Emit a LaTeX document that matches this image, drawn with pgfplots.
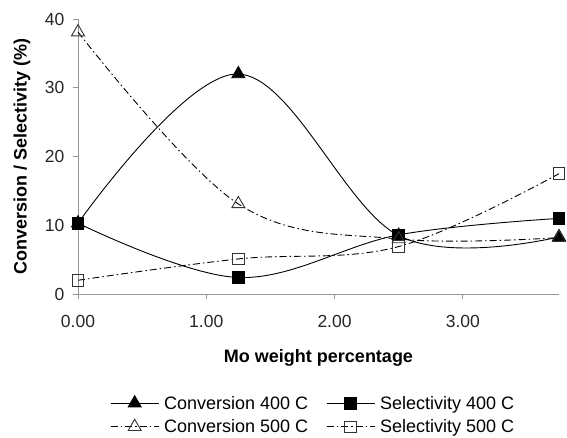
\documentclass[border=0pt]{standalone}
\usepackage{fontspec}
\setmainfont{Liberation Sans}
\usepackage{pgfplots}
\pgfplotsset{compat=1.18}
\definecolor{axgray}{RGB}{150,150,150}
\begin{document}
\begin{tikzpicture}
\begin{axis}[
  scale only axis, width=481pt, height=275pt,
  xmin=0, xmax=3.75, ymin=0, ymax=40,
  axis lines=left, axis line style={axgray, line width=0.9pt, -},
  xtick={0,1,2,3}, ytick={0,10,20,30,40},
  tick align=outside, major tick length=5pt,
  tick style={axgray, line width=0.9pt},
  /pgf/number format/assume math mode=true,
  tick label style={font=\fontsize{17.5}{21}\selectfont, text=black!85},
  xticklabel style={yshift=-13pt, /pgf/number format/.cd, fixed, fixed zerofill, precision=2},
  yticklabel style={xshift=-5pt},
  xlabel={\textbf{Mo weight percentage}},
  ylabel={\textbf{Conversion / Selectivity (\%)}},
  label style={font=\fontsize{18}{21}\selectfont},
  xlabel style={at={(axis description cs:0.5,-0.232)}, anchor=center},
  ylabel style={at={(axis description cs:-0.1164,0.5)}, anchor=center, rotate=0},
  legend columns=2,
  legend cell align=left,
  legend style={at={(0.489,-0.3555)}, anchor=north, draw=none, fill=none,
    font=\fontsize{18}{21}\selectfont,
    /tikz/every odd column/.append style={column sep=3pt},
    /tikz/every even column/.append style={column sep=16pt}, row sep=5pt},
  legend image code/.code={\draw[mark repeat=2,mark phase=2] plot coordinates {(0pt,0pt)(24pt,0pt)(48pt,0pt)};},
  clip=false,
]
\addplot[black, line width=0.9pt, smooth, tension=0.6, mark=triangle*, mark size=7.5pt, mark options={solid, fill=black}]
  coordinates {(0,10.3)(1.25,32)(2.5,8.5)(3.75,8.3)};
\addlegendentry{Conversion 400 C}
\addplot[black, line width=0.9pt, smooth, tension=0.6, mark=square*, mark size=5.8pt, mark options={solid, fill=black}]
  coordinates {(0,10.3)(1.25,2.4)(2.5,8.6)(3.75,11.0)};
\addlegendentry{Selectivity 400 C}
\addplot[black, line width=0.9pt, smooth, tension=0.6, dash pattern=on 7pt off 3pt on 1.5pt off 3pt, mark=triangle, mark size=7.5pt, mark options={solid, fill=white, draw=black!80}]
  coordinates {(0,38.1)(1.25,13.1)(2.5,8.0)(3.75,8.2)};
\addlegendentry{Conversion 500 C}
\addplot[black, line width=0.9pt, smooth, tension=0.6, dash pattern=on 7pt off 3pt on 1.5pt off 3pt, mark=square, mark size=5.8pt, mark options={solid, fill=white, draw=black!80}]
  coordinates {(0,2.0)(1.25,5.1)(2.5,6.9)(3.75,17.5)};
\addlegendentry{Selectivity 500 C}
\end{axis}
\pgfresetboundingbox
\path (-78pt,-144pt) rectangle (489pt,294pt);
\end{tikzpicture}
\end{document}
